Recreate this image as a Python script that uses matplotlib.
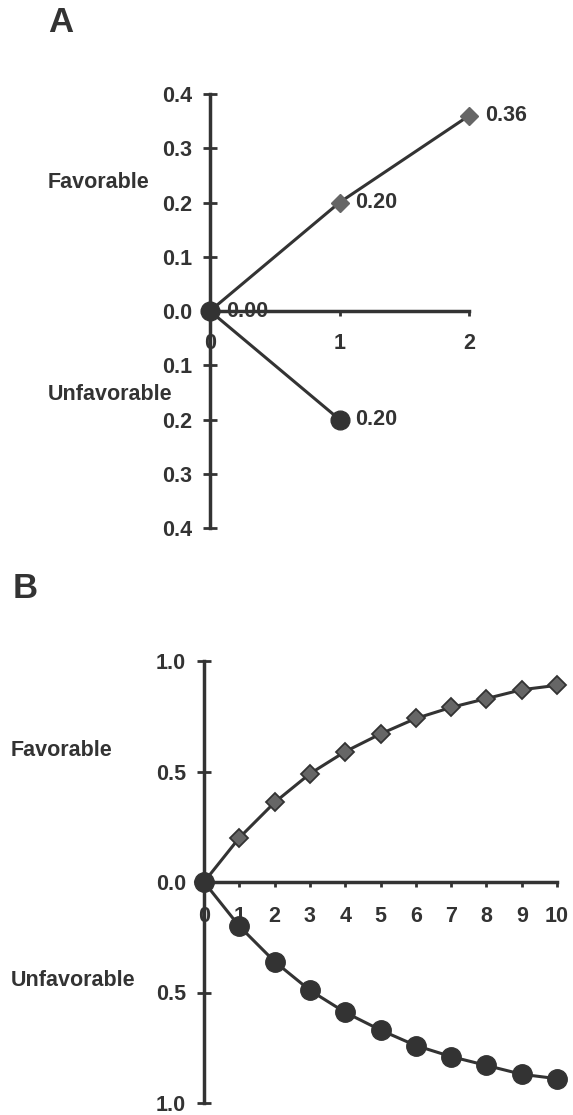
import matplotlib
matplotlib.use("Agg")
import matplotlib.pyplot as plt
from matplotlib.ticker import FuncFormatter

plt.rcParams['font.family'] = ['Liberation Sans', 'DejaVu Sans']
plt.rcParams['font.weight'] = 'bold'

# Panel A data
a_x = [0, 1, 2]
a_fav = [0.00, 0.20, 0.36]
a_unf_x = [0, 1]
a_unf = [0.00, 0.20]

# Panel B data
b_x = [0, 1, 2, 3, 4, 5, 6, 7, 8, 9, 10]
b_fav = [0.00, 0.20, 0.36, 0.49, 0.59, 0.67, 0.74, 0.79, 0.83, 0.87, 0.89]
b_unf = [0.00, 0.20, 0.36, 0.49, 0.59, 0.67, 0.74, 0.79, 0.83, 0.87, 0.89]

a_yticks = [-0.4, -0.3, -0.2, -0.1, 0.0, 0.1, 0.2, 0.3, 0.4]
b_yticks = [-1.0, -0.5, 0.0, 0.5, 1.0]

W, H = 573, 1115
DPI = 100
TXT = '#333333'
LINE = '#333333'
GRAY = '#666666'
FS = 15.5

fig = plt.figure(figsize=(W / DPI, H / DPI), dpi=DPI)


def px_axes(left, top, right, bottom):
    return fig.add_axes([left / W, 1 - bottom / H, (right - left) / W, (bottom - top) / H])


def style_axes(ax, xlim, ylim, yticks, xticks, xpad):
    ax.set_xlim(*xlim)
    ax.set_ylim(*ylim)
    ax.patch.set_visible(False)
    for s in ('top', 'right'):
        ax.spines[s].set_visible(False)
    ax.spines['left'].set_position(('data', 0))
    ax.spines['bottom'].set_position(('data', 0))
    for s in ('left', 'bottom'):
        ax.spines[s].set_linewidth(2.5)
        ax.spines[s].set_color(LINE)
    ax.set_yticks(yticks)
    ax.set_xticks(xticks)
    ax.yaxis.set_major_formatter(FuncFormatter(lambda v, p: f"{abs(v):.1f}"))
    ax.xaxis.set_major_formatter(FuncFormatter(lambda v, p: f"{int(round(v))}"))
    ax.tick_params(axis='y', direction='inout', length=10, width=2, color=LINE,
                   pad=8, labelsize=FS, labelcolor=TXT)
    ax.tick_params(axis='x', direction='out', length=3.6, width=2, color=LINE,
                   pad=xpad, labelsize=FS, labelcolor=TXT)
    for lab in ax.get_xticklabels() + ax.get_yticklabels():
        lab.set_fontweight('bold')


# ---- Panel A ----
axA = px_axes(210, 94, 469, 528)
style_axes(axA, (0, 2), (-0.4, 0.4), a_yticks, a_x, 12)

for xi, yi in zip(a_unf_x, a_unf):
    axA.annotate(f"{yi:.2f}", (xi, -yi), xytext=(11.5, 0), textcoords='offset points',
                 va='center', ha='left', fontsize=FS, fontweight='bold', color=TXT,
                 zorder=2, annotation_clip=False)
for xi, yi in zip(a_x[1:], a_fav[1:]):
    axA.annotate(f"{yi:.2f}", (xi, yi), xytext=(11.5, 0), textcoords='offset points',
                 va='center', ha='left', fontsize=FS, fontweight='bold', color=TXT,
                 zorder=2, annotation_clip=False)

axA.plot(a_x, a_fav, color=LINE, lw=2.2, marker='D', ms=9, mfc=GRAY, mec=GRAY,
         clip_on=False, zorder=4)
axA.plot(a_unf_x, [-v for v in a_unf], color=LINE, lw=2.2, marker='o', ms=13.5,
         mfc=LINE, mec=LINE, clip_on=False, zorder=5)

# ---- Panel B ----
axB = px_axes(204, 661, 557, 1103)
style_axes(axB, (0, 10), (-1.0, 1.0), b_yticks, b_x, 14)
axB.plot(b_x, b_fav, color=LINE, lw=2.2, marker='D', ms=9.5, mfc=GRAY, mec=LINE,
         mew=1.3, clip_on=False, zorder=4)
axB.plot(b_x, [-v for v in b_unf], color=LINE, lw=2.2, marker='o', ms=14,
         mfc=LINE, mec=LINE, clip_on=False, zorder=5)


def fig_text(x, y, s, size, **kw):
    fig.text(x / W, 1 - y / H, s, fontsize=size, fontweight='bold', color=TXT,
             va='center', ha='left', **kw)


fig_text(48, 22, "A", 25)
fig_text(13, 588, "B", 25)
fig_text(48, 183, "Favorable", FS)
fig_text(48, 394, "Unfavorable", FS)
fig_text(11, 751, "Favorable", FS)
fig_text(11, 980, "Unfavorable", FS)

fig.savefig("out.png", dpi=DPI)
